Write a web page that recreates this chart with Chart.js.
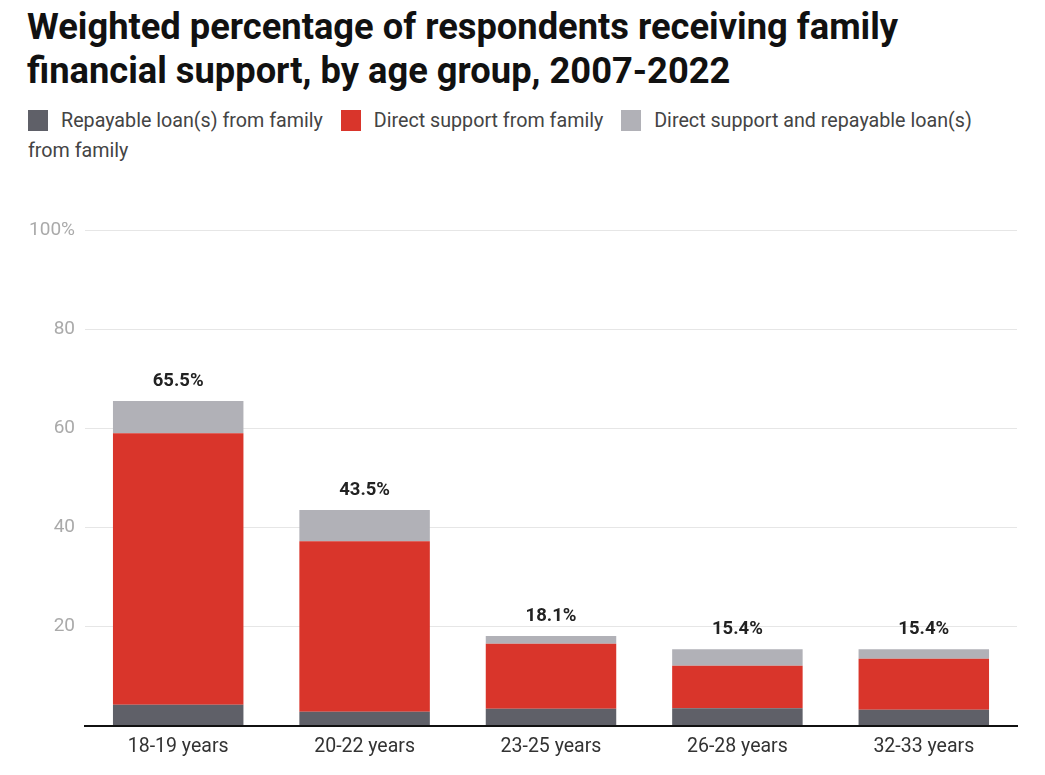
<!DOCTYPE html>
<html>
<head>
<meta charset="utf-8">
<script src="https://cdn.jsdelivr.net/npm/chart.js@4.4.1/dist/chart.umd.min.js"></script>
<style>
    body { margin: 0; background: #fff; font-family: Roboto, sans-serif; width: 1045px; height: 775px; overflow: hidden; position: relative; }
    h1 { position: absolute; left: 27px; top: 5px; margin: 0; font-size: 36.3px; line-height: 44px; font-weight: 700; color: #111; width: 1015px; }
    .legend { position: absolute; left: 28px; top: 106px; width: 975px; font-size: 19.7px; line-height: 30px; color: #444; }
    .legend span.sw { display: inline-block; width: 20px; height: 21px; vertical-align: -4px; margin-right: 13px; }
    .legend span.item { margin-right: 13px; }
    #wrap { position: absolute; left: 0; top: 200px; width: 1045px; height: 575px; }
</style>
</head>
<body>
<h1>Weighted percentage of respondents receiving family<br>financial support, by age group, 2007-2022</h1>
<div class="legend" id="legend"></div>
<div id="wrap"><canvas id="chart"></canvas></div>
<script>
const categories = ['18-19 years', '20-22 years', '23-25 years', '26-28 years', '32-33 years'];
const loanOnly = [4.2, 2.8, 3.4, 3.5, 3.2];
const directOnly = [54.8, 34.4, 13.1, 8.6, 10.3];
const both = [6.5, 6.3, 1.6, 3.3, 1.9];
const totals = [65.5, 43.5, 18.1, 15.4, 15.4];
const yTicks = [0, 20, 40, 60, 80, 100];

const seriesNames = ['Repayable loan(s) from family', 'Direct support from family', 'Direct support and repayable loan(s) from family'];
const colors = ['#5f6068', '#d9352b', '#b1b1b7'];

// HTML legend so it wraps like the original
document.getElementById('legend').innerHTML = seriesNames.map((n, i) =>
    `<span class="item"><span class="sw" style="background:${colors[i]}"></span>${n}</span>`).join(' ');

// totals above each stack
const totalLabels = {
    id: 'totalLabels',
    afterDatasetsDraw(chart) {
        const { ctx, scales: { x, y } } = chart;
        ctx.save();
        ctx.font = 'bold 18.5px Roboto';
        ctx.fillStyle = '#222';
        ctx.textAlign = 'center';
        ctx.textBaseline = 'middle';
        totals.forEach((t, i) => {
            ctx.fillText(t.toFixed(1) + '%', x.getPixelForValue(i), y.getPixelForValue(t) - 20);
        });
        ctx.restore();
    }
};

new Chart(document.getElementById('chart'), {
    type: 'bar',
    data: {
        labels: categories,
        datasets: [
            { label: seriesNames[0], data: loanOnly, backgroundColor: colors[0] },
            { label: seriesNames[1], data: directOnly, backgroundColor: colors[1] },
            { label: seriesNames[2], data: both, backgroundColor: colors[2] }
        ]
    },
    options: {
        responsive: true,
        maintainAspectRatio: false,
        animation: false,
        datasets: { bar: { categoryPercentage: 0.7, barPercentage: 1.0 } },
        layout: { padding: { top: 30, right: 28, bottom: 6, left: 0 } },
        scales: {
            x: {
                stacked: true,
                grid: { display: false, drawTicks: false },
                border: { color: '#111', width: 2 },
                ticks: { color: '#333', font: { family: 'Roboto', size: 19.5 }, padding: 10 }
            },
            y: {
                stacked: true,
                min: 0,
                max: 100,
                afterFit(scale) { scale.width = 85; },
                afterBuildTicks(scale) { scale.ticks = yTicks.map(v => ({ value: v })); },
                grid: { color: '#e6e6e6', drawTicks: false },
                border: { display: false },
                ticks: {
                    color: '#aaa',
                    padding: 10,
                    font: { family: 'Roboto', size: 19 },
                    callback: v => v === 0 ? '' : (v === 100 ? '100%' : v)
                }
            }
        },
        plugins: {
            legend: { display: false },
            tooltip: { enabled: false }
        }
    },
    plugins: [totalLabels]
});
</script>
</body>
</html>
